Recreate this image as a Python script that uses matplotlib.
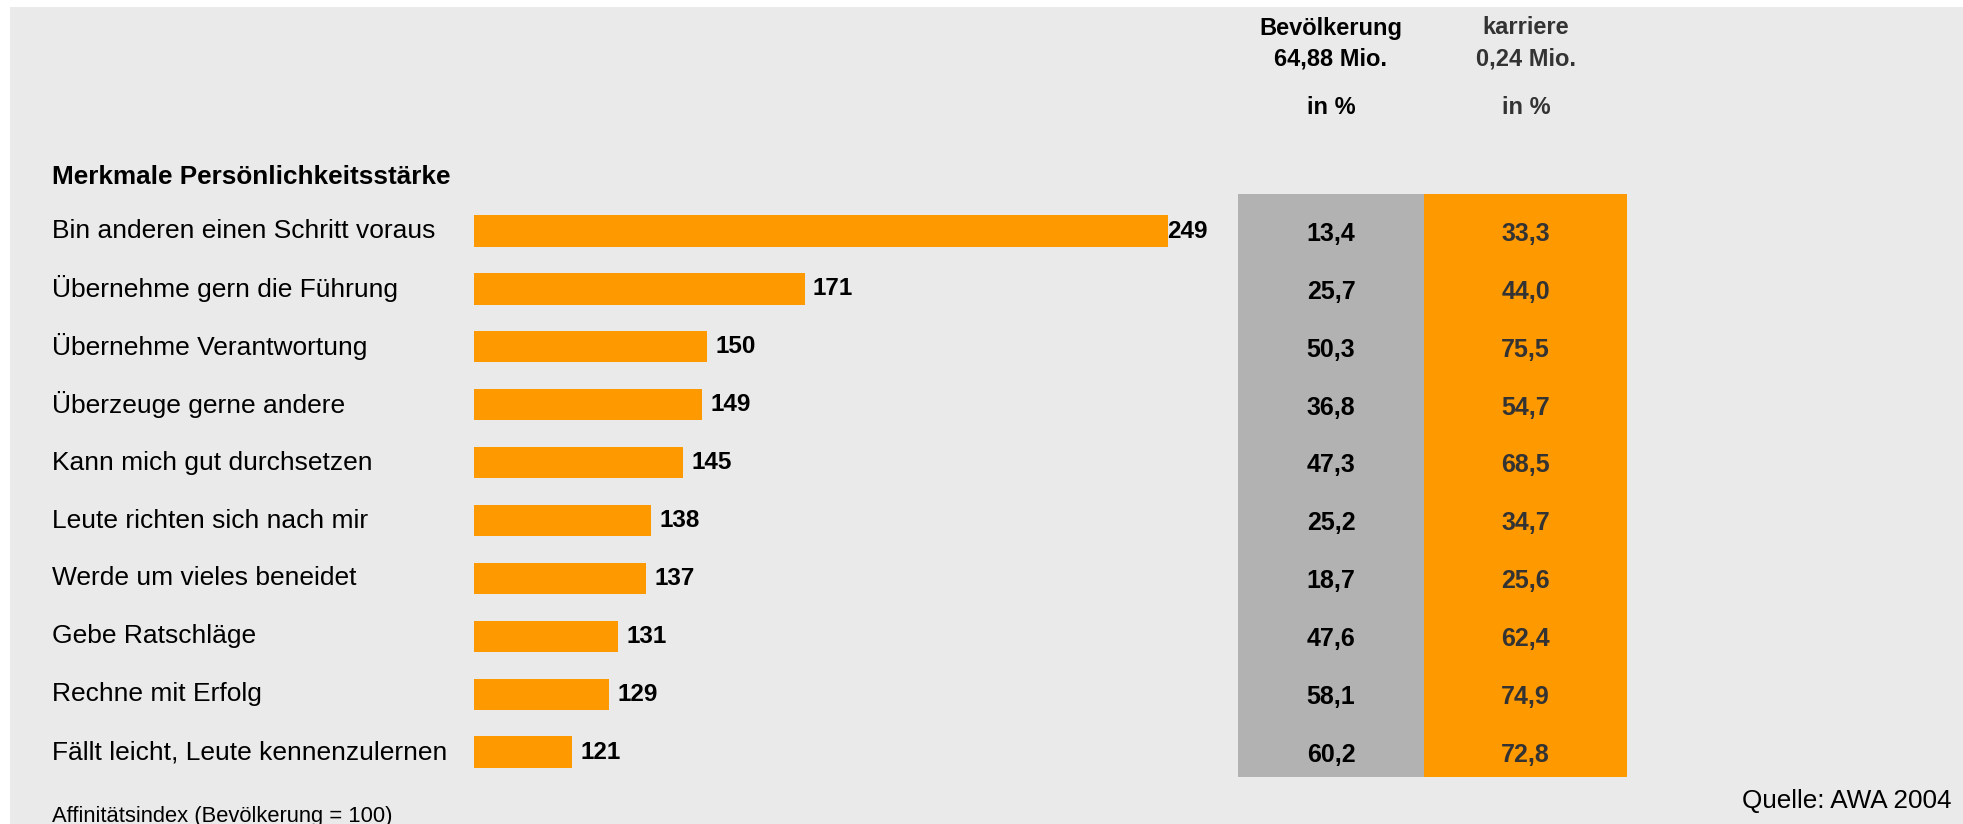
import numpy as np
import matplotlib
matplotlib.use("Agg")
from matplotlib import pyplot as plt
from matplotlib import transforms
from matplotlib.patches import Rectangle

# data
labels = ["Bin anderen einen Schritt voraus", "Übernehme gern die Führung",
          "Übernehme Verantwortung", "Überzeuge gerne andere",
          "Kann mich gut durchsetzen", "Leute richten sich nach mir",
          "Werde um vieles beneidet", "Gebe Ratschläge",
          "Rechne mit Erfolg", "Fällt leicht, Leute kennenzulernen"]
index_values = [249, 171, 150, 149, 145, 138, 137, 131, 129, 121]
pop_share = [13.4, 25.7, 50.3, 36.8, 47.3, 25.2, 18.7, 47.6, 58.1, 60.2]
karriere_share = [33.3, 44.0, 75.5, 54.7, 68.5, 34.7, 25.6, 62.4, 74.9, 72.8]
base = 100

W, H = 1963, 824
BG = "#EAEAEA"
ORANGE = "#FF9900"
GREY = "#B2B2B2"
DARK = "#333333"

plt.rcParams['font.family'] = ['Liberation Sans', 'DejaVu Sans']

fig = plt.figure(figsize=(W / 100, H / 100), dpi=100, facecolor="white")

# grey background panel (thin white strip at top / left)
fig.patches.append(Rectangle((10 / W, 0), 1, 1 - 7 / H, transform=fig.transFigure,
                             facecolor=BG, edgecolor="none", zorder=-5))


def fx(px):
    return px / W


def fy(py):
    return 1 - py / H


# row geometry
row0, row_step = 231, 57.9
top_px, bot_px = 194, 777
ylo = (top_px - row0) / row_step
yhi = (bot_px - row0) / row_step
rows = np.arange(len(labels))

# bar axes (bars start from index 100)
bar_left, bar_right = 474, 1230
px_per_unit = 4.655
ax = fig.add_axes([fx(bar_left), fy(bot_px), fx(bar_right - bar_left), (bot_px - top_px) / H])
ax.set_xlim(base, base + (bar_right - bar_left) / px_per_unit)
ax.set_ylim(yhi, ylo)
ax.axis("off")
vals = np.array(index_values)
ax.barh(rows, vals - base, left=base, height=0.54, color=ORANGE)
for i, v in enumerate(vals):
    off = 0 if i == 0 else 6
    ax.annotate(str(v), (v, i), xytext=(off, 0), textcoords="offset points",
                ha="left", va="center", fontsize=17.5, fontweight="bold", color="black")

# category labels on the left
lab_tr = transforms.blended_transform_factory(fig.transFigure, ax.transData)
for i, lab in enumerate(labels):
    ax.text(fx(52), i, lab, transform=lab_tr, ha="left", va="center",
            fontsize=19, color="black", clip_on=False)
fig.text(fx(52), fy(177), "Merkmale Persönlichkeitsstärke", ha="left", va="center",
         fontsize=18.8, fontweight="bold", color="black")

# table columns
ax_pop = fig.add_axes([fx(1238), fy(bot_px), fx(1424 - 1238), (bot_px - top_px) / H])
ax_kar = fig.add_axes([fx(1424), fy(bot_px), fx(1627 - 1424), (bot_px - top_px) / H])
for a, col, vals_, tc in [(ax_pop, GREY, pop_share, "black"),
                          (ax_kar, ORANGE, karriere_share, DARK)]:
    a.set_facecolor(col)
    a.set_xlim(0, 1)
    a.set_ylim(yhi, ylo)
    a.set_xticks([])
    a.set_yticks([])
    for s in a.spines.values():
        s.set_visible(False)
    for i, v in enumerate(vals_):
        a.text(0.5, i + 0.05, f"{v:.1f}".replace(".", ","), transform=a.get_yaxis_transform(),
               ha="center", va="center", fontsize=18, fontweight="bold", color=tc)

# column headers
for cx, l1, l2, tc in [(1331, "Bevölkerung", "64,88 Mio.", "black"),
                       (1526, "karriere", "0,24 Mio.", DARK)]:
    fig.text(fx(cx), fy(28), l1, ha="center", va="center", fontsize=17, fontweight="bold", color=tc)
    fig.text(fx(cx), fy(59), l2, ha="center", va="center", fontsize=17, fontweight="bold", color=tc)
    fig.text(fx(cx), fy(108), "in %", ha="center", va="center", fontsize=17, fontweight="bold", color=tc)

# footer texts
fig.text(fx(52), fy(822), "Affinitätsindex (Bevölkerung = 100)", ha="left", va="baseline",
         fontsize=15.8, color="black")
fig.text(fx(1951), fy(801), "Quelle: AWA 2004", ha="right", va="center",
         fontsize=18.8, color="black")

fig.savefig("out.png", dpi=100, facecolor=fig.get_facecolor())
